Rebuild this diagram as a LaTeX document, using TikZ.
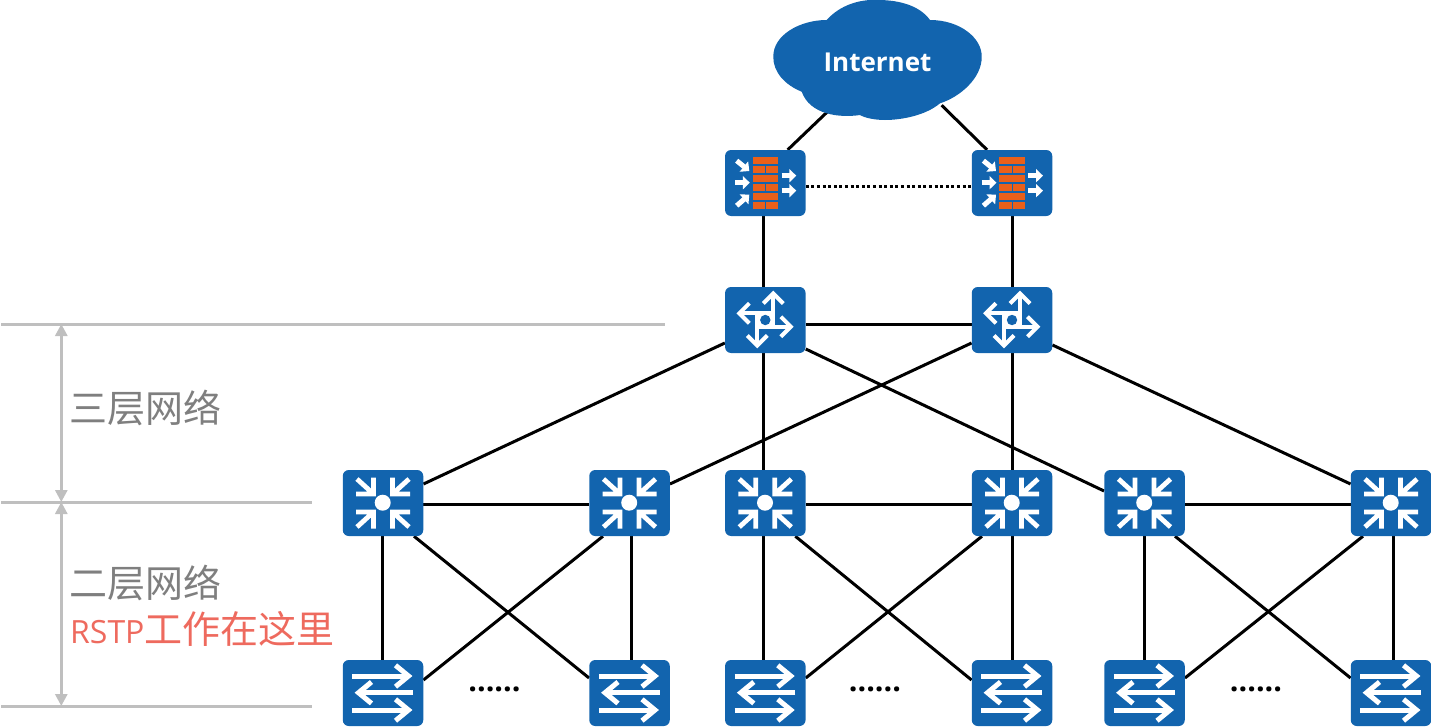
\documentclass[tikz,border=0pt]{standalone}
\usepackage{fontspec}
\setmainfont{Open Sans}
\newfontfamily\cjk{Noto Sans CJK SC}
\usetikzlibrary{arrows.meta,backgrounds}
\definecolor{devblue}{HTML}{1264AE}
\definecolor{brick}{HTML}{E9601A}
\definecolor{rulegray}{HTML}{BFBFBF}
\definecolor{labelgray}{HTML}{7F7F7F}
\definecolor{labelred}{HTML}{EE6A5E}
\tikzset{
  device/.style={fill=devblue, rounded corners=6pt, minimum width=80.5pt, minimum height=66pt, inner sep=0pt},
  link/.style={line width=3pt, black},
  rulex/.style={line width=3pt, rulegray},
  span/.style={line width=2.8pt, rulegray, {Triangle[length=12pt,width=12pt]}-{Triangle[length=12pt,width=12pt]}},
  iconline/.style={white, line width=4pt, miter limit=10},
  block/.style={white, line width=5pt, -{Triangle[length=7pt,width=13pt]}},
  dots/.style={anchor=base, font=\bfseries\fontsize{30.5}{31}\selectfont},
  layer/.style={anchor=west, inner sep=0pt, font=\cjk\fontsize{38}{38}\selectfont},
  firewallicon/.pic={
    \foreach \y in {-26.3,-8,10} \fill[brick] (-12.6,\y) rectangle (13,\y+7.3);  % long bricks
    \foreach \y in {-17,1,18.7} {
      \fill[brick] (-12.6,\y) rectangle (-0.3,\y+7.3);
      \fill[brick] (0.7,\y) rectangle (13,\y+7.3);
    }
    \draw[block] (-28.6,-22.3) -- (-16,-12);
    \draw[block] (-30.3,-0.3) -- (-15.5,-0.3);
    \draw[block] (-28.6,22.7) -- (-16,11.7);
    \draw[block] (16.4,-7.3) -- (31,-7.3);
    \draw[block] (16.4,7.7) -- (31,7.7);
  },
  routericon/.pic={
    \fill[white] (0,0) circle (9);
    \draw[iconline] (8,-26.5) -- (8,8.7);
    \draw[iconline] (-26,-6.7) -- (8,-6.7);
    \draw[iconline] (25.5,6.7) -- (-8,6.7);
    \draw[iconline] (-8,25.5) -- (-8,-8.7);
    \draw[iconline] (-2,-16.5) -- (8,-26.5) -- (18,-16.5);
    \draw[iconline] (-16,-16.7) -- (-26,-6.7) -- (-16,3.3);
    \draw[iconline] (15.5,-3.3) -- (25.5,6.7) -- (15.5,16.7);
    \draw[iconline] (-18,15.5) -- (-8,25.5) -- (2,15.5);
    \fill[devblue] (0,0) circle (5.2);
  },
  coreicon/.pic={
    \fill[white] (-0.3,-0.3) circle (8);
    \foreach \sx/\sy in {1/1,1/-1,-1/1,-1/-1}
      \draw[iconline, line width=4.8pt, xscale=\sx, yscale=\sy] (-26,-24) -- (-9.5,-9) (-27,-9) -- (-9.5,-9) -- (-9.5,-25.5);
  },
  accessicon/.pic={
    \foreach \y in {-17,17} {
      \draw[iconline, line width=5pt] (-30.7,\y) -- (25.5,\y);
      \draw[iconline, line width=5pt] (12.5,\y-10.7) -- (25.5,\y) -- (12.5,\y+10.7);
    }
    \draw[iconline, line width=5pt] (30,-0.3) -- (-24.5,-0.3);
    \draw[iconline, line width=5pt] (-11.5,-11) -- (-24.5,-0.3) -- (-11.5,10.4);
  },
}
\begin{document}
\begin{tikzpicture}[x=1pt,y=-1pt]
    \useasboundingbox (0,0) rectangle (1431,726);

    % cloud
    \fill[devblue] (826.7,20) .. controls (840,5) and (860,-1) .. (878,0)
      .. controls (900,0) and (920,6) .. (930,20)
      .. controls (960,20) and (982,38) .. (981.7,56.7)
      .. controls (982,78) and (960,97) .. (940,103.3)
      .. controls (925,116) and (900,120) .. (885,120)
      .. controls (875,120) and (865,118) .. (860,115)
      .. controls (840,118) and (810,115) .. (801.7,91.7)
      .. controls (785,85) and (773,72) .. (773.3,56.7)
      .. controls (773,35) and (800,20) .. (826.7,20) -- cycle;
    \node[minimum width=150pt, minimum height=86pt, inner sep=0pt, white, font=\bfseries\fontsize{26}{26}\selectfont] (inet) at (877.5,62) {Internet};

    % devices
    \foreach \name/\x in {fw1/765.3,fw2/1012} {
      \node[device] (\name) at (\x,183) {};
      \pic at (\name) {firewallicon};
    }
    \foreach \name/\x in {rt1/765.3,rt2/1012} {
      \node[device] (\name) at (\x,320) {};
      \pic at (\name) {routericon};
    }
    \foreach \name/\x in {cs1/383,cs2/629.5,cs3/765.3,cs4/1012,cs5/1144.5,cs6/1391} {
      \node[device] (\name) at (\x,503) {};
      \pic at (\name) {coreicon};
    }
    \foreach \name/\x in {as1/383,as2/629.5,as3/765.3,as4/1012,as5/1144.5,as6/1391} {
      \node[device] (\name) at (\x,693) {};
      \pic at (\name) {accessicon};
    }

    \begin{scope}[on background layer]
      \draw[link] (inet.225) -- (fw1.56);
      \draw[link] (inet.-34.5) -- (fw2.127);
      \draw[link, dash pattern=on 3pt off 2.6pt] ([yshift=-3pt]fw1.east) -- ([yshift=-3pt]fw2.west);
      \draw[link] ([xshift=-2pt]fw1.south) -- ([xshift=-2pt]rt1.north);
      \draw[link] (fw2.south) -- (rt2.north);
      \draw[link] ([yshift=-4pt]rt1.east) -- ([yshift=-4pt]rt2.west);

      % router to core
      \draw[link] ([yshift=-23pt]rt1.west) -- ([yshift=19pt]cs1.east);
      \draw[link] ([yshift=-23pt]rt2.west) -- ([yshift=19pt]cs2.east);
      \draw[link] ([xshift=-2pt]rt1.south) -- ([xshift=-2pt]cs3.north);
      \draw[link] (rt2.south) -- (cs4.north);
      \draw[link] ([yshift=-29pt]rt1.east) -- ([yshift=12pt]cs5.west);
      \draw[link] ([yshift=-25pt]rt2.east) -- ([yshift=19pt]cs6.west);

      % core row
      \draw[link] ([yshift=-1pt]cs1.east) -- ([yshift=-1pt]cs2.west);
      \draw[link] ([yshift=-1pt]cs3.east) -- ([yshift=-1pt]cs4.west);
      \draw[link] ([yshift=-1pt]cs5.east) -- ([yshift=-1pt]cs6.west);

      % core to access
      \draw[link] ([xshift=-0.5pt]cs1.south) -- ([xshift=-0.5pt]as1.north);
      \draw[link] ([xshift=1.5pt]cs2.south) -- ([xshift=1.5pt]as2.north);
      \draw[link] ([xshift=-2pt]cs3.south) -- ([xshift=-2pt]as3.north);
      \draw[link] (cs4.south) -- (as4.north);
      \draw[link] (cs5.south) -- (as5.north);
      \draw[link] ([xshift=2pt]cs6.south) -- ([xshift=2pt]as6.north);
      \draw[link] ([xshift=31pt]cs1.south) -- ([yshift=15pt]as2.west);
      \draw[link] ([xshift=-26.5pt]cs2.south) -- ([yshift=13pt]as1.east);
      \draw[link] ([xshift=30pt]cs3.south) -- ([yshift=13pt]as4.west);
      \draw[link] ([xshift=-30pt]cs4.south) -- ([yshift=15pt]as3.east);
      \draw[link] ([xshift=30.5pt]cs5.south) -- ([yshift=15pt]as6.west);
      \draw[link] ([xshift=-28pt]cs6.south) -- ([yshift=15pt]as5.east);
    \end{scope}

    % layer marks
    \coordinate (top) at (61.3,324);
    \coordinate (mid) at (61.3,502);
    \coordinate (low) at (61.3,706);
    \draw[rulex] (1,324) -- (665,324);
    \draw[rulex] (1,502) -- (312,502);
    \draw[rulex] (1,706) -- (312,706);
    \draw[span] (top) -- (mid);
    \draw[span] (mid) -- (low);

    \node[layer, labelgray] (l3) at (69,408) {三层网络};
    \node[layer, labelgray] (l2) at (69,583) {二层网络};
    \node[layer, labelred] (rstp) at (70,629) {{\rmfamily\fontsize{32}{32}\selectfont RSTP}工作在这里};

    \node[dots] (more1) at (494.5,691.5) {......};
    \node[dots] (more2) at (875,691.5) {......};
    \node[dots] (more3) at (1256,691.5) {......};
\end{tikzpicture}
\end{document}
